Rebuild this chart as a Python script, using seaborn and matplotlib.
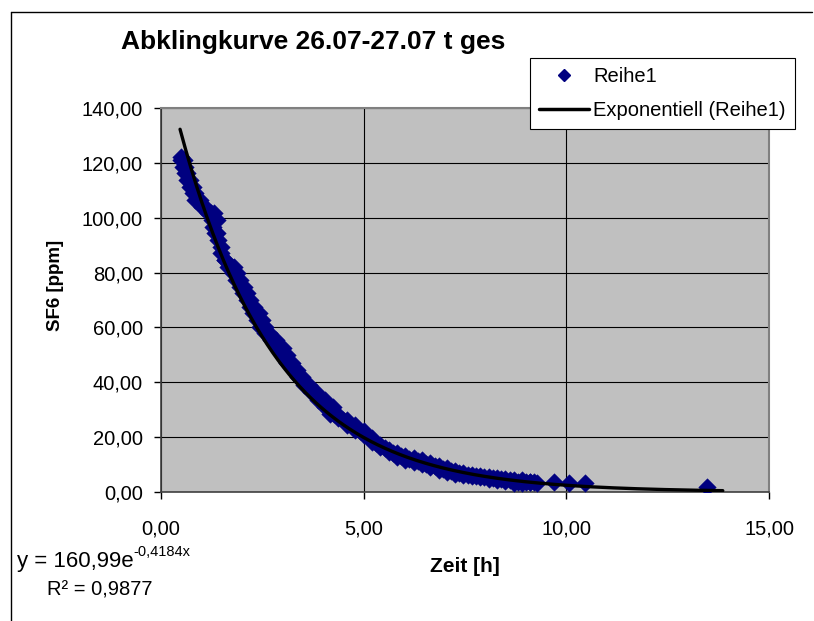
import numpy as np
import pandas as pd
import matplotlib
matplotlib.use("Agg")
import matplotlib.pyplot as plt
from matplotlib.lines import Line2D
import seaborn as sns

# ---------------- data ----------------
# dense measurement band, upper part (rows of points at equal SF6 levels)
time_upper = [0.50,
              0.50, 0.53, 0.56,
              0.55, 0.57, 0.60,
              0.59, 0.61, 0.64,
              0.63, 0.67, 0.72,
              0.71, 0.75, 0.80,
              0.79, 0.82, 0.85,
              0.83, 0.90, 0.97,
              1.00, 1.04, 1.09,
              1.16, 1.23, 1.30,
              1.25, 1.31, 1.38,
              1.28,
              1.33, 1.35, 1.38,
              1.41,
              1.48,
              1.49,
              1.57, 1.59,
              1.66, 1.72, 1.79,
              1.78, 1.82, 1.87,
              1.86, 1.91, 1.96,
              1.94, 1.99, 2.04,
              2.03, 2.07, 2.12,
              2.11, 2.15, 2.20,
              2.19, 2.24, 2.29,
              2.27, 2.34, 2.41,
              2.36, 2.42, 2.49,
              2.44, 2.50, 2.57,
              2.56, 2.61, 2.66,
              2.72, 2.78, 2.84,
              2.86, 2.93, 3.00,
              2.98, 3.05, 3.11,
              3.10, 3.16, 3.23,
              3.25, 3.30, 3.35,
              3.39, 3.44, 3.49,
              3.54, 3.59, 3.64,
              3.70, 3.76, 3.82,
              3.88, 3.96, 4.04,
              4.04, 4.14, 4.24]
sf6_upper = [122.3,
             121.0, 121.0, 121.0,
             118.6, 118.6, 118.6,
             116.2, 116.2, 116.2,
             113.7, 113.7, 113.7,
             111.3, 111.3, 111.3,
             108.9, 108.9, 108.9,
             106.5, 106.5, 106.5,
             104.0, 104.0, 104.0,
             101.6, 101.6, 101.6,
             99.2, 99.2, 99.2,
             96.7,
             94.3, 94.3, 94.3,
             91.9,
             89.4,
             87.0,
             84.6, 84.6,
             82.1, 82.1, 82.1,
             79.7, 79.7, 79.7,
             77.3, 77.3, 77.3,
             74.8, 74.8, 74.8,
             72.4, 72.4, 72.4,
             70.0, 70.0, 70.0,
             67.6, 67.6, 67.6,
             65.1, 65.1, 65.1,
             62.7, 62.7, 62.7,
             60.3, 60.3, 60.3,
             57.9, 57.9, 57.9,
             55.3, 55.3, 55.3,
             52.6, 52.6, 52.6,
             49.9, 49.9, 49.9,
             47.2, 47.2, 47.2,
             44.5, 44.5, 44.5,
             41.8, 41.8, 41.8,
             39.1, 39.1, 39.1,
             36.4, 36.4, 36.4,
             33.7, 33.7, 33.7,
             31.0, 31.0, 31.0]

# lower part of the band: upper row, lower row and a centre row in between
time_lower = [4.17, 4.37, 4.58, 4.79, 5.00, 5.21, 5.41, 5.62, 5.82, 6.03,
              6.23, 6.44, 6.64, 6.85, 7.05, 7.26, 7.46, 7.67, 7.88, 8.08,
              8.29, 8.49, 8.70, 8.91, 9.11]
sf6_lower_top = [30.0, 28.2, 26.3, 24.5, 22.1, 19.6, 17.2, 15.4, 14.2, 13.2,
                 12.3, 11.5, 10.5, 9.6, 8.7, 7.8, 6.9, 6.3, 5.7, 5.4,
                 5.0, 4.7, 4.5, 4.2, 3.8]
sf6_lower_bottom = [28.6, 26.8, 24.3, 22.5, 20.7, 18.3, 16.5, 14.6, 12.8, 11.8,
                    11.0, 10.1, 9.2, 8.2, 7.4, 6.7, 6.1, 5.7, 5.5, 4.9,
                    4.5, 4.1, 3.3, 3.3, 3.7]
time_center = [4.27, 4.48, 4.69, 4.90, 5.11, 5.31, 5.52, 5.72, 5.93, 6.13,
               6.34, 6.54, 6.75, 6.95, 7.16, 7.36, 7.57, 7.77, 7.98, 8.18,
               8.39, 8.60, 8.80, 9.01, 9.20, 9.28]
sf6_center = [28.3, 26.4, 24.4, 22.4, 20.2, 17.9, 16.0, 14.2, 13.0, 12.1,
              11.2, 10.3, 9.4, 8.5, 7.6, 6.9, 6.2, 5.8, 5.4, 5.0,
              4.6, 4.2, 3.8, 3.7, 3.6, 3.4]

# isolated late measurements
time_late = [9.69, 10.06, 10.47, 13.47]
sf6_late = [3.8, 3.2, 3.2, 1.7]

# exponential trend line shown in the chart (Excel trendline)
TREND_A = 160.99
TREND_B = -0.4184
TREND_R2 = 0.9877
TREND_X_START = 0.47
TREND_X_END = 13.86

# axes
X_TICKS = [0, 5, 10, 15]
X_TICK_LABELS = ["0,00", "5,00", "10,00", "15,00"]
Y_TICKS = [0, 20, 40, 60, 80, 100, 120, 140]
Y_TICK_LABELS = ["0,00", "20,00", "40,00", "60,00", "80,00", "100,00", "120,00", "140,00"]

TITLE = "Abklingkurve 26.07-27.07 t ges"
X_LABEL = "Zeit [h]"
Y_LABEL = "SF6 [ppm]"
SERIES_LABEL = "Reihe1"
TREND_LABEL = "Exponentiell (Reihe1)"

# ---------------- build tables ----------------
times = (time_upper + time_lower + time_lower + time_center + time_late)
values = (sf6_upper + sf6_lower_top + sf6_lower_bottom + sf6_center + sf6_late)
df = pd.DataFrame({"Zeit": times, "SF6": values})

trend_x = np.linspace(TREND_X_START, TREND_X_END, 300)
trend_df = pd.DataFrame({"Zeit": trend_x, "SF6": TREND_A * np.exp(TREND_B * trend_x)})

# ---------------- styling ----------------
sns.set_theme(style="white")
plt.rcParams["font.family"] = ["Liberation Sans", "DejaVu Sans"]
plt.rcParams["text.color"] = "black"
plt.rcParams["axes.labelcolor"] = "black"

W, H = 814, 621
fig = plt.figure(figsize=(W / 100, H / 100), dpi=100)
fig.patch.set_facecolor("white")


def fx(x):
    return x / W


def fy(y):
    return 1 - y / H


L, R, T, B = 161, 769, 108, 492
ax = fig.add_axes([fx(L), fy(B), (R - L) / W, (B - T) / H])
ax.set_facecolor("#C0C0C0")

NAVY = "#000080"
sns.scatterplot(data=df, x="Zeit", y="SF6", ax=ax, marker="D", s=80,
                color=NAVY, edgecolor=NAVY, linewidth=0.3, label=SERIES_LABEL,
                zorder=3)
sns.lineplot(data=trend_df, x="Zeit", y="SF6", ax=ax, color="black",
             linewidth=2.4, label=TREND_LABEL, zorder=4)

ax.set_xlim(0, 15)
ax.set_ylim(0, 140)
ax.set_xticks(X_TICKS)
ax.set_xticklabels(X_TICK_LABELS)
ax.set_yticks(Y_TICKS)
ax.set_yticklabels(Y_TICK_LABELS)
ax.set_xlabel("")
ax.set_ylabel("")
ax.grid(True, color="black", linewidth=0.8)
ax.set_axisbelow(True)

ax.tick_params(axis="both", which="major", direction="out", length=5, width=1,
               color="black", labelsize=14.5, labelcolor="black",
               left=True, bottom=True)
ax.tick_params(axis="y", pad=8)
ax.tick_params(axis="x", pad=15)
for side in ["left", "bottom"]:
    ax.spines[side].set_color("#404040")
    ax.spines[side].set_linewidth(1.2)
for side in ["top", "right"]:
    ax.spines[side].set_color("#808080")
    ax.spines[side].set_linewidth(1.5)

# legend
handles = [Line2D([], [], linestyle="none", marker="D", markersize=6,
                  markerfacecolor=NAVY, markeredgecolor=NAVY),
           Line2D([], [], color="black", linewidth=2.5)]
leg = ax.legend(handles, [SERIES_LABEL, TREND_LABEL],
                loc="upper left", bbox_to_anchor=(fx(530), fy(58)),
                bbox_transform=fig.transFigure, frameon=True, fancybox=False,
                edgecolor="black", facecolor="white", framealpha=1,
                fontsize=14.5, handlelength=2.5, handletextpad=0.2,
                labelspacing=0.75, borderpad=0.45, borderaxespad=0)
leg.get_frame().set_linewidth(0.8)
leg.set_zorder(10)
for t in leg.get_texts():
    t.set_color("black")

# titles and labels
fig.text(fx(313), fy(42), TITLE, ha="center", va="center",
         fontsize=19, fontweight="bold", color="black")
fig.text(fx(465), fy(566), X_LABEL, ha="center", va="center",
         fontsize=15, fontweight="bold", color="black")
fig.text(fx(55), fy(285), Y_LABEL, ha="center", va="center", rotation=90,
         fontsize=13.5, fontweight="bold", color="black")

# trendline equation
a_txt = f"{TREND_A:.2f}".replace(".", ",")
b_txt = f"{TREND_B:.4f}".replace(".", ",")
r_txt = f"{TREND_R2:.4f}".replace(".", ",")
eq = fig.text(fx(17), fy(567), f"y = {a_txt}e", ha="left", va="baseline",
              fontsize=16, color="black")
renderer = fig.canvas.get_renderer()
bb = eq.get_window_extent(renderer)
fig.text(bb.x1 / W, fy(556), f"{b_txt}x", ha="left", va="baseline",
         fontsize=10.5, color="black")
fig.text(fx(47), fy(596), f"R\u00b2 = {r_txt}", ha="left", va="baseline",
         fontsize=14.5, color="black")

# outer chart frame (top and left edges visible)
fig.add_artist(Line2D([fx(11), fx(812)], [fy(12), fy(12)], color="black",
                      linewidth=1, transform=fig.transFigure))
fig.add_artist(Line2D([fx(11), fx(11)], [fy(12), fy(621)], color="black",
                      linewidth=1, transform=fig.transFigure))

fig.savefig("out.png", dpi=100)
